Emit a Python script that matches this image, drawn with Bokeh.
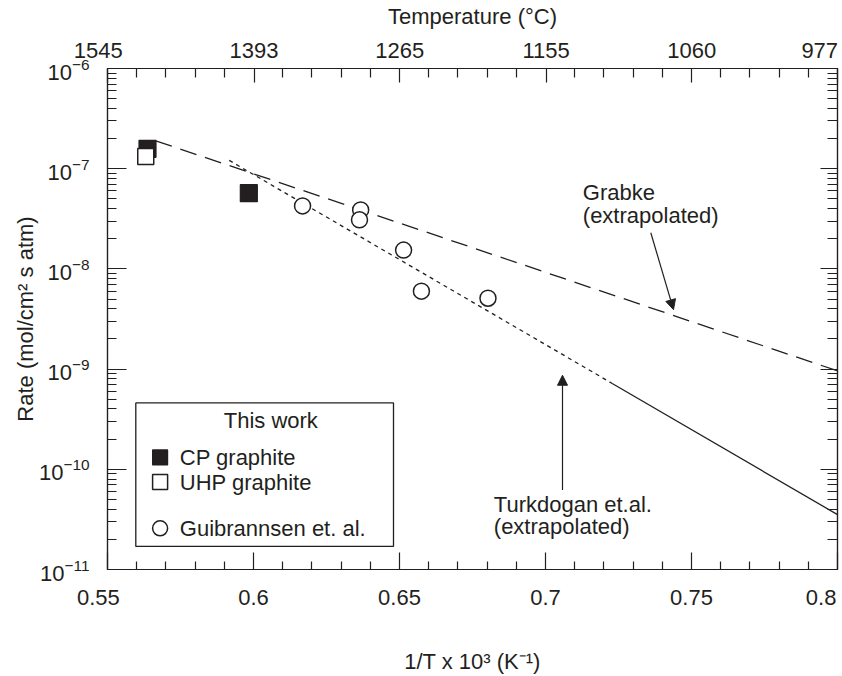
from bokeh.plotting import figure
from bokeh.models import (LinearAxis, LogAxis, FixedTicker, Range1d, Label, Arrow,
                          NormalHead, BoxAnnotation, CustomJSTickFormatter)
from bokeh.embed import file_html
from bokeh.resources import INLINE

# ---------------- data ----------------
cp_x = [0.5637, 0.5984]
cp_y = [1.58e-7, 5.70e-8]
uhp_x = [0.5631]
uhp_y = [1.32e-7]
gui_x = [0.6168, 0.6367, 0.6363, 0.6514, 0.6575, 0.6803]
gui_y = [4.25e-8, 3.88e-8, 3.09e-8, 1.54e-8, 6.0e-9, 5.1e-9]
grabke_x = [0.5665, 0.800]
grabke_y = [1.9e-7, 9.6e-10]
turk_dot_x = [0.5917, 0.723]
turk_dot_y = [1.21e-7, 7.15e-10]
turk_sol_x = [0.723, 0.800]
turk_sol_y = [7.15e-10, 3.53e-11]

x_ticks = [0.55, 0.60, 0.65, 0.70, 0.75, 0.80]
x_tick_labels = ["0.55", "0.6", "0.65", "0.7", "0.75", "0.8"]
x_minor = [0.56, 0.57, 0.58, 0.59, 0.61, 0.62, 0.63, 0.64, 0.66, 0.67, 0.68, 0.69,
           0.71, 0.72, 0.73, 0.74, 0.76, 0.77, 0.78, 0.79]
temps_c = [1545, 1393, 1265, 1155, 1060, 977]
y_ticks = [1e-11, 1e-10, 1e-9, 1e-8, 1e-7, 1e-6]

INK = "#231f20"
FONT = "Liberation Sans"
FS = "22px"

# -------- helpers: position annotations by reference-pixel location --------
X0, X1, XL, XR = 0.55, 0.80, 106.7, 836.7
YT_PX, YB_PX = 67.0, 573.3


def px2x(px):
    return X0 + (px - XL) / (XR - XL) * (X1 - X0)


def py2y(py):
    return 10 ** (-6 - (py - YT_PX) / ((YB_PX - YT_PX) / 5.0))


p = figure(width=842, height=676, output_backend="svg", toolbar_location=None,
           x_range=Range1d(X0, X1), y_range=Range1d(1e-11, 1e-6), y_axis_type="log",
           min_border_left=107, min_border_right=5, min_border_top=67, min_border_bottom=103)
p.grid.visible = False
p.outline_line_color = INK
p.outline_line_width = 1.2
p.background_fill_color = "white"
p.border_fill_color = "white"

empty = CustomJSTickFormatter(code="return ''")
y_minor = [m * 10.0 ** e for e in range(-11, -6) for m in range(2, 10)]

# trailing spaces nudge the end labels the way the reference sits them
FIG, PUN, THIN = "\u2007", "\u2008", "\u2009"
pad_bottom = [FIG + PUN, "", "", "", "", PUN]
pad_top = [FIG + PUN, "", "", "", "", THIN]


def style_axis(ax, tin, tmin):
    ax.axis_line_color = INK
    ax.axis_line_width = 1.2
    ax.major_tick_line_color = INK
    ax.minor_tick_line_color = INK
    ax.major_tick_line_width = 1.2
    ax.minor_tick_line_width = 1.2
    ax.major_tick_in = tin
    ax.major_tick_out = 0
    ax.minor_tick_in = tmin
    ax.minor_tick_out = 0
    ax.axis_label_text_font = FONT
    ax.axis_label_text_font_size = FS
    ax.axis_label_text_font_style = "normal"
    ax.axis_label_text_color = INK
    ax.major_label_text_font = FONT
    ax.major_label_text_font_size = FS
    ax.major_label_text_color = INK


# bottom axis
xb = p.xaxis[0]
xb.ticker = FixedTicker(ticks=x_ticks, minor_ticks=x_minor)
xb.formatter = CustomJSTickFormatter(
    args=dict(labels=[t + s for t, s in zip(x_tick_labels, pad_bottom)]),
    code="return labels[index]")
style_axis(xb, 17, 8)
xb.major_label_standoff = 15
xb.axis_label = "1/T x 10³ (K⁻¹)"
xb.axis_label_standoff = 36

# left axis
yl = p.yaxis[0]
yl.ticker = FixedTicker(ticks=y_ticks, minor_ticks=y_minor)
style_axis(yl, 19, 9)
yl.major_label_standoff = 18
yl.axis_label = "Rate (mol/cm² s atm)"
yl.axis_label_standoff = -2

# right axis
yr = LogAxis(ticker=FixedTicker(ticks=y_ticks, minor_ticks=y_minor), formatter=empty)
style_axis(yr, 17, 10)
yr.major_label_standoff = 0
p.add_layout(yr, "right")

# top axis (temperature, °C, at 1/T positions)
temp_pos = [round(1000.0 / (t + 273.15), 4) for t in temps_c]
xt = LinearAxis(ticker=FixedTicker(ticks=temp_pos, minor_ticks=x_minor),
                formatter=CustomJSTickFormatter(
                    args=dict(labels=[str(t) + s for t, s in zip(temps_c, pad_top)]),
                    code="return labels[index]"))
style_axis(xt, 14, 9)
xt.major_label_standoff = 6
xt.axis_label = "Temperature (°C)"
xt.axis_label_standoff = 6
p.add_layout(xt, "above")

# ---------------- lines ----------------
p.line(grabke_x, grabke_y, line_color=INK, line_width=1.3, line_dash="17 9")
p.line(turk_dot_x, turk_dot_y, line_color=INK, line_width=1.3, line_dash="4 4")
p.line(turk_sol_x, turk_sol_y, line_color=INK, line_width=1.3)

# ---------------- markers ----------------
p.scatter(cp_x, cp_y, marker="square", size=17, fill_color=INK, line_color=INK, line_width=1.2)
p.scatter(uhp_x, uhp_y, marker="square", size=16, fill_color="white", line_color=INK, line_width=1.5)
p.scatter(gui_x, gui_y, marker="circle", size=16, fill_color="white", line_color=INK, line_width=1.5)


# ---------------- annotations ----------------
def add_text(px, py, txt, align="left"):
    p.add_layout(Label(x=px2x(px), y=py2y(py), text=txt, text_align=align,
                       text_baseline="middle", text_font=FONT, text_font_size=FS,
                       text_color=INK))


add_text(582, 192.5, "Grabke")
add_text(582, 216.0, "(extrapolated)")
add_text(493, 508, "Turkdogan et.al.")
add_text(493, 530, "(extrapolated)")

head = dict(size=10, fill_color=INK, line_color=INK, line_width=1)
p.add_layout(Arrow(x_start=px2x(650), y_start=py2y(233), x_end=px2x(672.7), y_end=py2y(310.7),
                   line_color=INK, line_width=1.2, end=NormalHead(**head)))
p.add_layout(Arrow(x_start=px2x(561.7), y_start=py2y(493), x_end=px2x(561.7), y_end=py2y(377),
                   line_color=INK, line_width=1.2, end=NormalHead(**head)))

# ---------------- legend (boxed, as in reference) ----------------
p.add_layout(BoxAnnotation(left=px2x(135), right=px2x(392.7), top=py2y(405), bottom=py2y(550),
                           fill_alpha=0, line_color=INK, line_alpha=1.0, line_width=1.3))
add_text(270, 423, "This work", align="center")
lx = px2x(159.3)
p.scatter([lx], [py2y(460)], marker="square", size=15, fill_color=INK, line_color=INK, line_width=1.2)
p.scatter([lx], [py2y(485)], marker="square", size=15, fill_color="white", line_color=INK, line_width=1.5)
p.scatter([lx], [py2y(531.7)], marker="circle", size=15, fill_color="white", line_color=INK, line_width=1.5)
add_text(179, 460, "CP graphite")
add_text(179, 485, "UHP graphite")
add_text(179, 531.7, "Guibrannsen et. al.")

open("out.html", "w").write(file_html(p, INLINE))
